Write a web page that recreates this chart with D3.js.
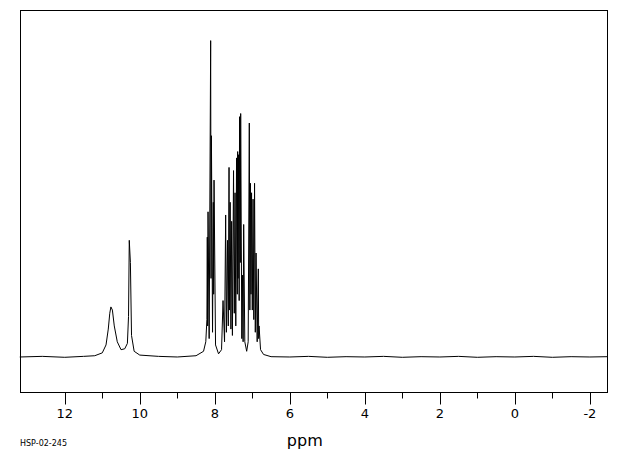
<!DOCTYPE html>
<html>
<head>
<meta charset="utf-8">
<script src="https://cdn.jsdelivr.net/npm/d3@7"></script>
<style>
  body { margin: 0; background: #fff; }
  text { font-family: "DejaVu Sans", sans-serif; fill: #000; }
</style>
</head>
<body>
<svg id="chart" width="620" height="455"></svg>
<script>
// spectrum: [ppm, relative intensity]
var spectrum = [
  [13.2, 0.002], [12.6, 0.004], [12.0, 0.001], [11.5, 0.004], [11.2, 0.006],
  [11.0, 0.015], [10.9, 0.04], [10.84, 0.09], [10.8, 0.14], [10.77, 0.16],
  [10.73, 0.15], [10.68, 0.10], [10.6, 0.05], [10.5, 0.025], [10.4, 0.028],
  [10.33, 0.045], [10.3, 0.13], [10.28, 0.37], [10.25, 0.30], [10.22, 0.07],
  [10.15, 0.02], [10.0, 0.008], [9.5, 0.004], [9.0, 0.002], [8.5, 0.006],
  [8.3, 0.02], [8.24, 0.05], [8.21, 0.12],
  [8.20, 0.38], [8.19, 0.10], [8.18, 0.46], [8.15, 0.06], [8.11, 1.0],
  [8.10, 0.25], [8.09, 0.70], [8.06, 0.08], [8.04, 0.49], [8.03, 0.20],
  [8.02, 0.56], [7.98, 0.04], [7.9, 0.012], [7.82, 0.025],
  [7.78, 0.18], [7.74, 0.05], [7.71, 0.45], [7.69, 0.08], [7.66, 0.37],
  [7.64, 0.10], [7.62, 0.60], [7.61, 0.15], [7.59, 0.49], [7.57, 0.09],
  [7.55, 0.43], [7.53, 0.07], [7.50, 0.59], [7.48, 0.14], [7.46, 0.52],
  [7.44, 0.10], [7.42, 0.63], [7.40, 0.20], [7.39, 0.65], [7.38, 0.25],
  [7.37, 0.64], [7.35, 0.18], [7.34, 0.76], [7.32, 0.30], [7.31, 0.77],
  [7.28, 0.06], [7.26, 0.26], [7.245, 0.05], [7.23, 0.42], [7.20, 0.05],
  [7.15, 0.02], [7.11, 0.05], [7.08, 0.74], [7.065, 0.15], [7.05, 0.55],
  [7.035, 0.20], [7.02, 0.52], [7.0, 0.15], [6.98, 0.50], [6.96, 0.12],
  [6.94, 0.55], [6.92, 0.08], [6.90, 0.33], [6.87, 0.05], [6.84, 0.28],
  [6.83, 0.06], [6.82, 0.10], [6.78, 0.025], [6.7, 0.01], [6.5, 0.003],
  [6.0, 0.002], [5.5, 0.004], [5.0, 0.001], [4.5, 0.003], [4.0, 0.002],
  [3.5, 0.004], [3.0, 0.001], [2.5, 0.003], [2.0, 0.002], [1.5, 0.004],
  [1.0, 0.001], [0.5, 0.003], [0.0, 0.002], [-0.5, 0.004], [-1.0, 0.001],
  [-1.5, 0.003], [-2.0, 0.002], [-2.47, 0.003]
];
var majorTicks = [12, 10, 8, 6, 4, 2, 0, -2];
var minorTicks = [11, 9, 7, 5, 3, 1, -1];
var xLabel = "ppm";
var sampleId = "HSP-02-245";

var svg = d3.select("#chart");
var plotLeft = 20.5, plotRight = 607.5, plotTop = 10.5, plotBottom = 392.5;

var x = d3.scaleLinear().domain([13.18, -2.47]).range([plotLeft, plotRight]);
var y = d3.scaleLinear().domain([-0.11, 1.095]).range([plotBottom, plotTop]);

svg.append("rect")
  .attr("x", plotLeft).attr("y", plotTop)
  .attr("width", plotRight - plotLeft).attr("height", plotBottom - plotTop)
  .attr("fill", "none").attr("stroke", "#000").attr("stroke-width", 1);

var line = d3.line()
  .x(function(d) { return x(d[0]); })
  .y(function(d) { return y(d[1]); });

svg.append("path")
  .datum(spectrum)
  .attr("d", line)
  .attr("fill", "none").attr("stroke", "#000").attr("stroke-width", 1);

svg.selectAll(".major").data(majorTicks).enter().append("line")
  .attr("x1", function(d) { return Math.round(x(d)) + 0.5; })
  .attr("x2", function(d) { return Math.round(x(d)) + 0.5; })
  .attr("y1", plotBottom).attr("y2", plotBottom + 12)
  .attr("stroke", "#000");

svg.selectAll(".minor").data(minorTicks).enter().append("line")
  .attr("x1", function(d) { return Math.round(x(d)) + 0.5; })
  .attr("x2", function(d) { return Math.round(x(d)) + 0.5; })
  .attr("y1", plotBottom).attr("y2", plotBottom + 6)
  .attr("stroke", "#000");

svg.selectAll(".lab").data(majorTicks).enter().append("text")
  .attr("x", function(d) { return x(d); })
  .attr("y", 418)
  .attr("text-anchor", "middle")
  .attr("font-size", 13)
  .text(function(d) { return d; });

svg.append("text")
  .attr("x", x(5.6)).attr("y", 446)
  .attr("text-anchor", "middle").attr("font-size", 16)
  .text(xLabel);

svg.append("text")
  .attr("x", 20).attr("y", 446)
  .attr("font-size", 8)
  .text(sampleId);
</script>
</body>
</html>
